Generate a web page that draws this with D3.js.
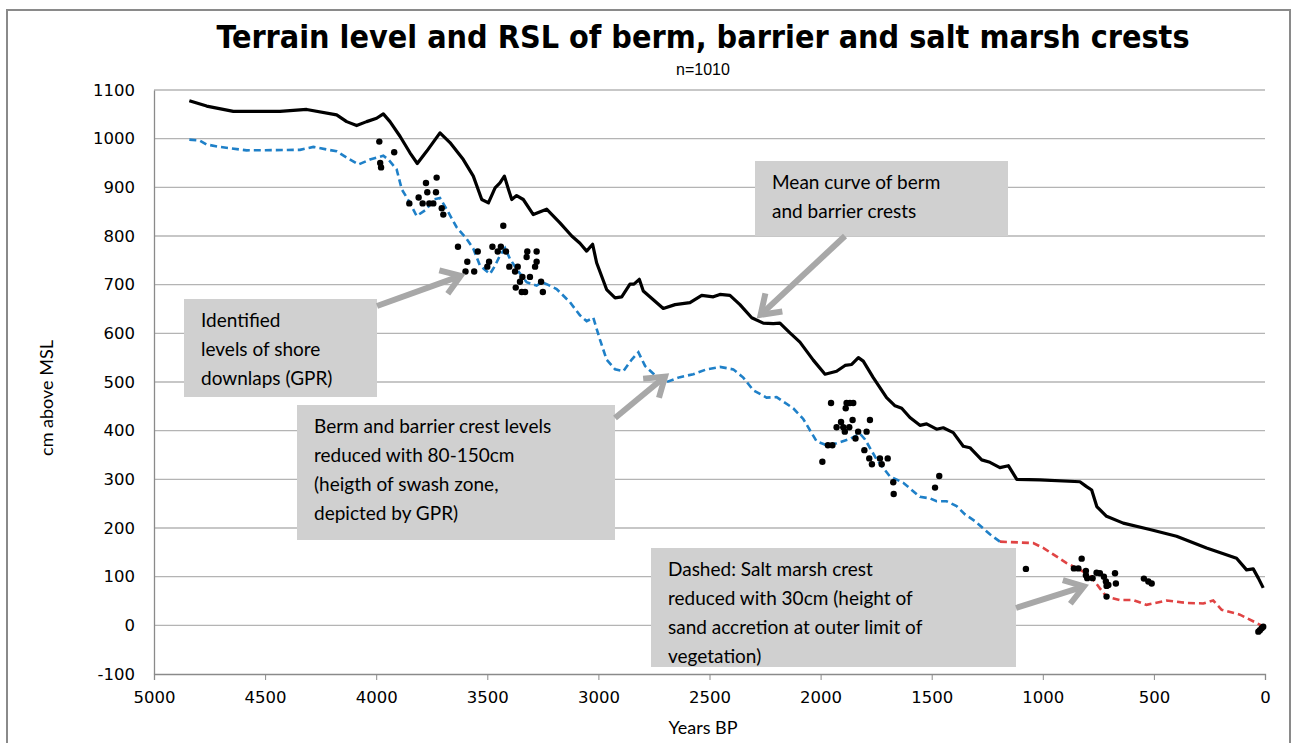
<!DOCTYPE html>
<html>
<head>
<meta charset="utf-8">
<script src="https://cdn.jsdelivr.net/npm/d3@7"></script>
<style>
  body { margin: 0; background: #fff; }
  svg { display: block; }
  .note text { font-family: Lato, "Open Sans", sans-serif; font-size: 19px; fill: #000; }
</style>
</head>
<body>
<div id="chart"></div>
<script>
// chart values: [years BP, cm above MSL]
var meanCurve = [
  [4841,1078],[4763,1067],[4643,1056],[4433,1056],[4313,1060],[4178,1049],[4133,1035],[4088,1027],
  [4043,1035],[3998,1042],[3968,1051],[3938,1035],[3893,1005],[3848,971],[3815,949],[3773,974],
  [3713,1012],[3668,992],[3608,957],[3563,923],[3525,875],[3495,868],[3465,899],[3443,909],
  [3423,923],[3405,896],[3390,875],[3368,883],[3338,875],[3293,844],[3233,855],[3173,827],
  [3120,800],[3083,785],[3053,769],[3026,783],[3008,745],[2963,690],[2925,673],[2895,675],
  [2858,701],[2840,701],[2816,711],[2798,687],[2708,651],[2655,659],[2588,663],[2535,678],
  [2483,675],[2453,680],[2408,678],[2363,659],[2310,632],[2258,621],[2213,620],[2183,621],
  [2138,601],[2093,582],[2033,545],[1980,516],[1928,522],[1890,534],[1860,536],[1830,550],
  [1808,543],[1763,509],[1703,468],[1665,451],[1635,446],[1598,427],[1553,411],[1523,414],
  [1478,403],[1448,406],[1403,396],[1358,368],[1328,365],[1275,340],[1238,335],[1193,324],
  [1155,328],[1117,300],[1013,299],[833,295],[803,285],[780,278],[757,244],[713,224],
  [638,210],[518,197],[398,183],[263,159],[128,138],[83,114],[53,116],[30,97],[8,77]
];

var bermCurve = [
  [4841,998],[4793,996],[4763,988],[4703,983],[4583,976],[4343,977],[4283,983],[4178,974],
  [4133,961],[4080,947],[4028,957],[3968,965],[3945,957],[3908,937],[3885,896],[3848,868],
  [3818,841],[3773,855],[3743,875],[3713,878],[3683,855],[3638,818],[3593,794],[3563,774],
  [3533,739],[3488,722],[3465,739],[3443,760],[3420,775],[3398,753],[3368,732],[3323,705],
  [3278,698],[3255,705],[3233,701],[3188,691],[3128,664],[3083,637],[3053,625],[3023,632],
  [2993,587],[2963,546],[2925,526],[2888,522],[2850,546],[2820,561],[2790,533],[2738,511],
  [2693,500],[2633,510],[2573,516],[2513,526],[2453,531],[2393,526],[2348,509],[2303,483],
  [2243,468],[2198,469],[2123,446],[2078,424],[2018,378],[1973,370],[1928,374],[1868,383],
  [1823,394],[1800,382],[1748,341],[1688,306],[1628,293],[1553,264],[1508,261],[1478,255],
  [1433,255],[1388,245],[1350,228],[1305,214],[1238,187],[1193,172]
];

var marshCurve = [
  [1193,172],[1043,169],[998,159],[893,128],[833,114],[788,103],[743,76],[713,59],
  [653,52],[593,52],[533,42],[443,51],[353,46],[278,45],[233,51],[195,32],[113,22],[8,-2]
];

var downlaps = [
  [3986,994],[3919,972],[3982,950],[3978,941],[3776,909],[3728,920],[3809,879],[3770,890],
  [3731,890],[3851,867],[3791,867],[3761,867],[3743,867],[3705,857],[3698,844],[3428,821],
  [3632,778],[3477,778],[3439,778],[3543,768],[3453,768],[3416,768],[3320,768],[3278,768],
  [3323,757],[3590,747],[3492,747],[3278,747],[3500,737],[3401,737],[3363,737],[3285,737],
  [3598,727],[3559,727],[3375,727],[3342,716],[3308,716],[3353,706],[3258,706],[3372,694],
  [3345,685],[3330,685],[3250,685],
  [1953,457],[1883,457],[1868,457],[1853,457],[1887,446],[1908,418],[1856,422],[1778,422],
  [1928,407],[1898,407],[1871,407],[1891,398],[1831,398],[1793,398],[1843,384],[1967,370],
  [1947,370],[1803,360],[1992,336],[1781,343],[1733,343],[1698,343],[1769,331],[1725,331],
  [1673,294],[1671,270],[1466,307],[1485,283],
  [1076,116],[825,137],[860,117],[840,117],[806,112],[806,103],[800,97],[776,97],
  [758,108],[743,107],[725,100],[716,90],[705,83],[713,81],[675,107],[671,86],[713,59],
  [545,96],[525,90],[510,86],[23,-10],[8,-3],[15,-6],[30,-13]
];

var yTicks = [-100,0,100,200,300,400,500,600,700,800,900,1000,1100];
var xTicks = [5000,4500,4000,3500,3000,2500,2000,1500,1000,500,0];

// annotation boxes: label lines, where the arrow points [years BP, cm]
var notes = [
  {lines:["Identified","levels of shore","downlaps (GPR)"], box:[184,299,193,98], from:[377,306], to:[3620,718]},
  {lines:["Mean curve of berm","and barrier crests"], box:[755,161,253,75], from:[845,236], to:[2270,638]},
  {lines:["Berm and barrier crest levels","reduced with 80-150cm","(heigth of swash zone,","depicted by GPR)"], box:[297,405,318,135], from:[615,418], to:[2700,511]},
  {lines:["Dashed: Salt marsh crest","reduced with 30cm (height of","sand accretion at outer limit of","vegetation)"], box:[651,548,365,119], from:[1016,608], to:[815,80]}
];

var W = 1295, H = 743;
var margin = {top: 90, right: 30, bottom: 69, left: 154};
var width = W - margin.left - margin.right,
    height = H - margin.top - margin.bottom;

var svg = d3.select("#chart").append("svg")
    .attr("width", W)
    .attr("height", H);

// outer chart frame
svg.append("rect")
    .attr("x", 7).attr("y", 10)
    .attr("width", 1283).attr("height", 745)
    .attr("fill", "none")
    .attr("stroke", "#8a8a8a")
    .attr("stroke-width", 2);

svg.append("text")
    .attr("x", 703).attr("y", 48)
    .attr("text-anchor", "middle")
    .style("font-family", "'Liberation Sans Narrow', 'DejaVu Sans Condensed', sans-serif")
    .style("font-weight", "bold")
    .style("font-size", "32px")
    .text("Terrain level and RSL of berm, barrier and salt marsh crests");

svg.append("text")
    .attr("x", 703).attr("y", 75)
    .attr("text-anchor", "middle")
    .style("font-family", "'Liberation Sans Narrow', sans-serif")
    .style("font-size", "16px")
    .text("n=1010");

var g = svg.append("g")
    .attr("transform", "translate(" + margin.left + "," + margin.top + ")");

var x = d3.scaleLinear().domain([5000, 0]).range([0, width]);
var y = d3.scaleLinear().domain([-100, 1100]).range([height, 0]);

// gridlines
g.append("g")
    .selectAll("line")
    .data(yTicks.filter(function(d){ return d > -100; }))
    .enter().append("line")
    .attr("x1", 0).attr("x2", width)
    .attr("y1", function(d){ return y(d); })
    .attr("y2", function(d){ return y(d); })
    .attr("stroke", "#b4b4b4")
    .attr("stroke-width", 1.3);

function plain(d){ return String(d); }   // keep "-100", no thousands comma

function styleTicks(a){
    a.select(".domain").attr("stroke", "#8a8a8a").attr("stroke-width", 1.3);
    a.selectAll(".tick line").attr("stroke", "#8a8a8a");
    a.selectAll(".tick text")
        .style("font-family", "'DejaVu Sans', Verdana, sans-serif")
        .style("font-size", "16.5px")
        .attr("fill", "#000");
}

var yAxis = d3.axisLeft(y).tickValues(yTicks).tickSize(0).tickPadding(19).tickFormat(plain);
g.append("g").call(yAxis).call(styleTicks);

var xAxis = d3.axisBottom(x).tickValues(xTicks).tickSize(6).tickPadding(11).tickFormat(plain);
g.append("g")
    .attr("transform", "translate(0," + height + ")")
    .call(xAxis)
    .call(styleTicks);

svg.append("text")
    .attr("transform", "translate(53,398) rotate(-90)")
    .attr("text-anchor", "middle")
    .style("font-family", "Lato, sans-serif")
    .style("font-size", "18px")
    .text("cm above MSL");

svg.append("text")
    .attr("x", 703).attr("y", 734)
    .attr("text-anchor", "middle")
    .style("font-family", "Lato, sans-serif")
    .style("font-size", "18px")
    .text("Years BP");

var line = d3.line()
    .x(function(d){ return x(d[0]); })
    .y(function(d){ return y(d[1]); });

g.append("path")
    .datum(bermCurve)
    .attr("d", line)
    .attr("fill", "none")
    .attr("stroke", "#1f80c8")
    .attr("stroke-width", 2.6)
    .attr("stroke-dasharray", "7,4");

g.append("path")
    .datum(marshCurve)
    .attr("d", line)
    .attr("fill", "none")
    .attr("stroke", "#e04444")
    .attr("stroke-width", 2.6)
    .attr("stroke-dasharray", "7,4");

g.append("path")
    .datum(meanCurve)
    .attr("d", line)
    .attr("fill", "none")
    .attr("stroke", "#000")
    .attr("stroke-width", 3.2)
    .attr("stroke-linejoin", "round");

g.selectAll("circle")
    .data(downlaps)
    .enter().append("circle")
    .attr("cx", function(d){ return x(d[0]); })
    .attr("cy", function(d){ return y(d[1]); })
    .attr("r", 3.2)
    .attr("fill", "#000");

// notes + arrows
var note = svg.selectAll("g.note")
    .data(notes)
    .enter().append("g")
    .attr("class", "note");

note.append("rect")
    .attr("x", function(d){ return d.box[0]; })
    .attr("y", function(d){ return d.box[1]; })
    .attr("width", function(d){ return d.box[2]; })
    .attr("height", function(d){ return d.box[3]; })
    .attr("fill", "#d0d0d0");

note.each(function(d){
    var t = d3.select(this).append("text");
    d.lines.forEach(function(s, i){
        t.append("tspan")
            .attr("x", d.box[0] + 17)
            .attr("y", d.box[1] + 28 + i * 29)
            .text(s);
    });

    var tx = margin.left + x(d.to[0]), ty = margin.top + y(d.to[1]);
    var ang = Math.atan2(ty - d.from[1], tx - d.from[0]);
    var len = 22, spread = 0.6;
    var arrow = d3.select(this).append("g")
        .attr("fill", "none")
        .attr("stroke", "#a8a8a8")
        .attr("stroke-width", 6)
        .attr("stroke-linecap", "butt");
    arrow.append("line")
        .attr("x1", d.from[0]).attr("y1", d.from[1])
        .attr("x2", tx - 3 * Math.cos(ang)).attr("y2", ty - 3 * Math.sin(ang));
    arrow.append("path")
        .attr("stroke-linejoin", "miter")
        .attr("d", "M" + (tx - len * Math.cos(ang - spread)) + "," + (ty - len * Math.sin(ang - spread)) +
                   "L" + tx + "," + ty +
                   "L" + (tx - len * Math.cos(ang + spread)) + "," + (ty - len * Math.sin(ang + spread)));
});
</script>
</body>
</html>
